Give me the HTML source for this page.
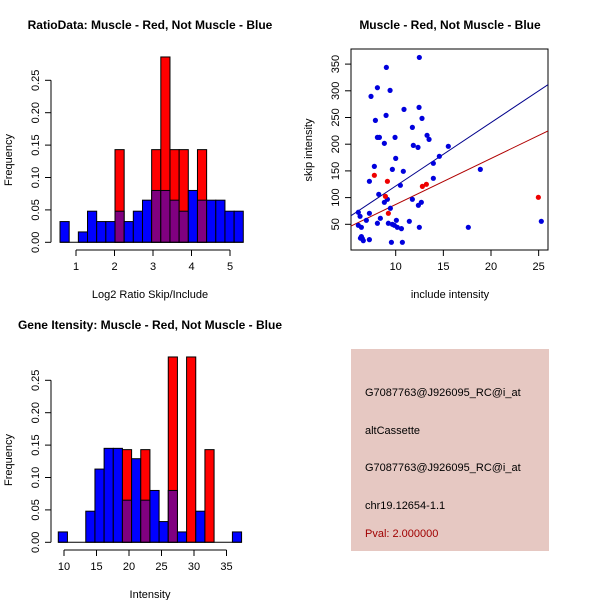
<!DOCTYPE html>
<html><head><meta charset="utf-8"><style>
html,body{margin:0;padding:0;background:#fff}
svg{display:block}
text{font-family:"Liberation Sans",sans-serif;fill:#000}
</style></head><body>
<svg id="c" width="600" height="600" viewBox="0 0 600 600" xmlns="http://www.w3.org/2000/svg">
<rect width="600" height="600" fill="#fff"/>
<text x="150" y="29" text-anchor="middle" font-size="12" font-weight="bold">RatioData: Muscle - Red, Not Muscle - Blue</text>
<text x="450" y="29" text-anchor="middle" font-size="12" font-weight="bold">Muscle - Red, Not Muscle - Blue</text>
<text x="150" y="329" text-anchor="middle" font-size="12" font-weight="bold">Gene Itensity: Muscle - Red, Not Muscle - Blue</text>
<text x="150" y="298" text-anchor="middle" font-size="11">Log2 Ratio Skip/Include</text>
<text x="150" y="598" text-anchor="middle" font-size="11">Intensity</text>
<text x="450" y="298" text-anchor="middle" font-size="11">include intensity</text>
<text transform="translate(12,160) rotate(-90)" text-anchor="middle" font-size="11">Frequency</text>
<text transform="translate(12,460) rotate(-90)" text-anchor="middle" font-size="11">Frequency</text>
<text transform="translate(312,150) rotate(-90)" text-anchor="middle" font-size="11">skip intensity</text>
<g>
<rect x="351" y="349" width="198" height="202" fill="#e6c8c2"/>
<text x="365" y="396" font-size="11">G7087763@J926095_RC@i_at</text>
<text x="365" y="434" font-size="11">altCassette</text>
<text x="365" y="471" font-size="11">G7087763@J926095_RC@i_at</text>
<text x="365" y="509" font-size="11">chr19.12654-1.1</text>
<text x="365" y="537" font-size="11" style="fill:#a00000">Pval: 2.000000</text>
</g>
</svg>
<script>
// ---- data: ratio histogram ----
const ratioBinStart = 0.585;
const ratioBinWidth = 0.238;
const ratioBlue = [0.032,0,0.016,0.048,0.032,0.032,0.048,0.032,0.048,0.065,0.08,0.08,0.065,0.048,0.08,0.065,0.065,0.065,0.048,0.048];
const ratioRed  = [0,0,0,0,0,0,0.143,0,0,0,0.143,0.286,0.143,0.143,0,0.143,0,0,0,0];
const ratioXTicks = [1,2,3,4,5];
// ---- data: intensity histogram ----
const intBinStart = 9.12;
const intBinWidth = 1.41;
const intBlue = [0.016,0,0,0.048,0.113,0.145,0.145,0.065,0.129,0.065,0.08,0.032,0.08,0.016,0,0.048,0,0,0,0.016];
const intRed  = [0,0,0,0,0,0,0,0.143,0,0.143,0,0,0.286,0,0.286,0,0.143,0,0,0];
const intXTicks = [10,15,20,25,30,35];
const freqTicks = ["0.00","0.05","0.10","0.15","0.20","0.25"];
// ---- data: scatter ----
const blueX = [12.48,9.02,8.08,9.41,7.41,10.87,12.45,8.99,12.76,7.87,11.75,8.08,8.29,9.93,13.29,13.5,8.81,11.85,12.34,15.52,10,14.58,13.95,7.76,9.65,10.8,18.88,7.24,13.95,10.49,8.22,11.75,9.13,8.81,12.69,12.38,6.08,7.24,6.26,9.44,6.92,8.39,10.07,11.43,8.08,9.23,9.65,9.86,10.17,6.08,6.4,12.48,17.62,25.28,6.4,6.5,6.6,7.24,9.55,10.7,6.3,10.6];
const blueY = [362.5,343.8,305.8,300.8,289.6,265.2,269,254,248.4,244.6,231.5,212.8,212.8,212.8,216.6,209,201.6,197.8,194.1,196,173.5,177.3,164.2,158.5,152.9,149.2,152.9,130.5,136.1,123,106.1,96.8,96.8,91.2,91.2,85.6,72.5,70.6,65,80,57.5,61.2,57.5,55.6,51.9,51.9,50,48.1,44.4,48.1,44.4,44.4,44.4,55.6,26.9,23.2,19.4,21.3,16.3,16.3,24,41.9];
const redX = [7.76,9.13,8.92,9.23,12.8,13.22,24.97];
const redY = [141.7,130.5,102.4,70.6,121,124.9,100.5];
const blueFit = [2.9,11.88]; // intercept, slope
const redFit = [1.1,8.61];
const scatXTicks = [10,15,20,25];
const scatYTicks = [50,100,150,200,250,300,350];

const NS="http://www.w3.org/2000/svg";
const svg=document.getElementById('c');
function mk(tag,attrs,parent){const e=document.createElementNS(NS,tag);for(const k in attrs)e.setAttribute(k,attrs[k]);(parent||svg).appendChild(e);return e;}

function hist(gname,yOff,binStart,binW,blue,red,xTicks,x0px,pxPerUnit){
  const g=mk('g',{});
  
  
  const X=v=>x0px+(v-xTicks[0])*pxPerUnit;
  const Y=f=>yOff+242.3-f*648;
  for(let i=0;i<blue.length;i++){
    const xa=X(binStart+i*binW), xb=X(binStart+(i+1)*binW);
    const b=blue[i], r=red[i];
    if(r>0){
      const e=mk('rect',{x:xa,y:Y(r),width:xb-xa,height:Y(0)-Y(r),fill:'#ff0000',stroke:'#000','stroke-width':1},g);
      
      
    }
    if(b>0){
      const e=mk('rect',{x:xa,y:Y(b),width:xb-xa,height:Y(0)-Y(b),fill:r>0?'#800080':'#0000ff',stroke:'#000','stroke-width':1},g);
      
      
    }
  }
  mk('line',{x1:X(binStart),x2:X(binStart+blue.length*binW),y1:Y(0),y2:Y(0),stroke:'#000'},g);
  // y axis
  mk('line',{x1:51,x2:51,y1:Y(0),y2:Y(0.25),stroke:'#000'},g);
  freqTicks.forEach((t,i)=>{
    const y=Y(i*0.05);
    mk('line',{x1:51,x2:45,y1:y,y2:y,stroke:'#000'},g);
    const tx=mk('text',{transform:`translate(39,${y}) rotate(-90)`,'text-anchor':'middle','font-size':11},g);
    tx.textContent=t;
    
    
  });
  // x axis
  const ay=yOff+250;
  mk('line',{x1:X(xTicks[0]),x2:X(xTicks[xTicks.length-1]),y1:ay,y2:ay,stroke:'#000'},g);
  xTicks.forEach(t=>{
    const x=X(t);
    mk('line',{x1:x,x2:x,y1:ay,y2:ay+6,stroke:'#000'},g);
    const tx=mk('text',{x:x,y:ay+20,'text-anchor':'middle','font-size':11},g);
    tx.textContent=t;
    
    
  });
}
hist('ratio-histogram',0,ratioBinStart,ratioBinWidth,ratioBlue,ratioRed,ratioXTicks,76,38.5);
hist('intensity-histogram',300,intBinStart,intBinWidth,intBlue,intRed,intXTicks,64,6.5);

// scatter
(function(){
  const g=mk('g',{});
  
  
  const X=v=>395.7+(v-10)*9.53;
  const Y=v=>224.3-(v-50)*0.534;
  const L=351,R=548,T=49,B=250;
  const x0=10+(L-395.7)/9.53, x1=10+(R-395.7)/9.53;
  const cp=mk('clipPath',{id:'sc'},g);mk('rect',{x:L,y:T,width:R-L,height:B-T},cp);
  mk('rect',{x:L,y:T,width:R-L,height:B-T,fill:'none',stroke:'#000'},g);
  [[blueFit,'#00008b','blue-fit-line'],[redFit,'#b00000','red-fit-line']].forEach(([f,c,n])=>{
    const l=mk('line',{x1:X(x0),y1:Y(f[0]+f[1]*x0),x2:X(x1),y2:Y(f[0]+f[1]*x1),stroke:c,'stroke-width':1,'clip-path':'url(#sc)'},g);
    
    
  });
  blueX.forEach((x,i)=>{
    const p=mk('circle',{cx:X(x),cy:Y(blueY[i]),r:2.6,fill:'#0000dd'},g);
    
    
  });
  redX.forEach((x,i)=>{
    const p=mk('circle',{cx:X(x),cy:Y(redY[i]),r:2.6,fill:'#ee0000'},g);
    
    
  });
  scatXTicks.forEach(t=>{
    const x=X(t);
    mk('line',{x1:x,x2:x,y1:B,y2:B+6,stroke:'#000'},g);
    const tx=mk('text',{x:x,y:B+20,'text-anchor':'middle','font-size':11},g);
    tx.textContent=t;
    
    
  });
  scatYTicks.forEach(t=>{
    const y=Y(t);
    mk('line',{x1:L,x2:L-6,y1:y,y2:y,stroke:'#000'},g);
    const tx=mk('text',{transform:`translate(339,${y}) rotate(-90)`,'text-anchor':'middle','font-size':11},g);
    tx.textContent=t;
    
    
  });
})();
</script>
</body></html>
